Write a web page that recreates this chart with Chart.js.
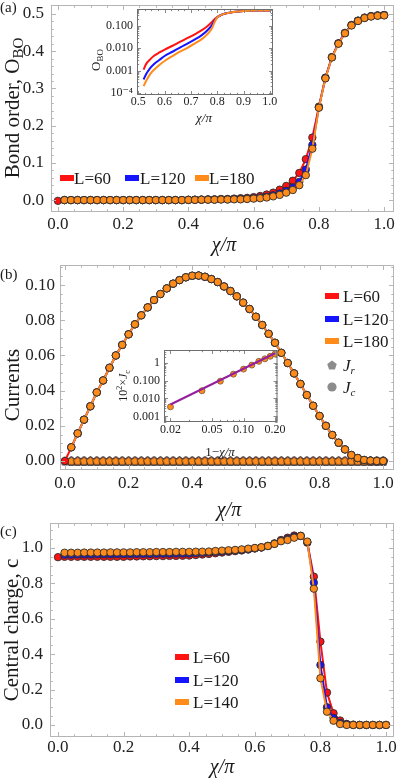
<!DOCTYPE html>
<html lang="en">
<head>
  <meta charset="UTF-8">
  <meta name="viewport" content="width=device-width, initial-scale=1.0">
  <title>Bond order, currents and central charge</title>
  <script src="https://cdn.jsdelivr.net/npm/chart.js@4.4.1/dist/chart.umd.min.js"></script>
  <style>
    body { margin: 0; background: #fff; }
    #fig { position: relative; width: 399px; height: 782px; overflow: hidden; }
    #fig canvas { position: absolute; }
  </style>
</head>
<body>
  <div id="fig">
    <canvas id="chartA" width="399" height="256" style="left:0;top:0"></canvas>
    <canvas id="chartB" width="399" height="266" style="left:0;top:256px"></canvas>
    <canvas id="chartC" width="399" height="266" style="left:0;top:516px"></canvas>
    <canvas id="insetA" width="205" height="130" style="left:80px;top:0"></canvas>
    <canvas id="insetB" width="185" height="130" style="left:105px;top:335px"></canvas>
  </div>

  <script>
    const SERIF = '"Liberation Serif", "DejaVu Serif", serif';
    const RED = '#ff1212', BLUE = '#1414ff', ORANGE = '#ff8c1a', PURPLE = '#941f9c';
    const EDGE = 'rgba(45,45,45,0.9)';

    // chi/pi grid (L=60 starts at 0, the others at 0.02)
    const chi = [0.00, 0.02, 0.04, 0.06, 0.08, 0.10, 0.12, 0.14, 0.16, 0.18, 0.20, 0.22, 0.24, 0.26, 0.28,
      0.30, 0.32, 0.34, 0.36, 0.38, 0.40, 0.42, 0.44, 0.46, 0.48, 0.50, 0.52, 0.54, 0.56, 0.58, 0.60, 0.62,
      0.64, 0.66, 0.68, 0.70, 0.72, 0.74, 0.76, 0.78, 0.80, 0.82, 0.84, 0.86, 0.88, 0.90, 0.92, 0.94, 0.96,
      0.98, 1.00];

    // (a) bond order
    const boL60 = [-0.002, 0, 0, 0, 0, 0, 0, 0, 0, 0, 0, 0, 0, 0, 0, 0, 0, 0, 0, 0,
      0.001, 0.001, 0.0015, 0.002, 0.002, 0.003, 0.003, 0.004, 0.005, 0.006,
      0.008, 0.011, 0.015, 0.02, 0.028, 0.038, 0.052, 0.073, 0.11, 0.168,
      0.251, 0.329, 0.384, 0.421, 0.449, 0.47, 0.482, 0.49, 0.494, 0.496, 0.497];
    const boL120 = [0, 0, 0, 0, 0, 0, 0, 0, 0, 0, 0, 0, 0, 0, 0, 0, 0, 0, 0,
      0.0005, 0.001, 0.001, 0.0015, 0.0015, 0.002, 0.002, 0.003, 0.003, 0.004,
      0.005, 0.007, 0.009, 0.013, 0.018, 0.025, 0.034, 0.049, 0.082, 0.148,
      0.249, 0.328, 0.384, 0.421, 0.449, 0.47, 0.482, 0.49, 0.494, 0.496, 0.497];
    const boL180 = [0, 0, 0, 0, 0, 0, 0, 0, 0, 0, 0, 0, 0, 0, 0, 0, 0, 0, 0,
      0.0005, 0.0005, 0.001, 0.001, 0.001, 0.0015, 0.0015, 0.002, 0.002, 0.003,
      0.004, 0.005, 0.007, 0.01, 0.014, 0.02, 0.027, 0.04, 0.067, 0.138,
      0.248, 0.327, 0.383, 0.42, 0.448, 0.469, 0.481, 0.489, 0.493, 0.495, 0.496];

    // (a) inset, log scale
    const obChi = [0.52, 0.53, 0.545, 0.56, 0.58, 0.60, 0.63, 0.66, 0.69, 0.72, 0.74, 0.76, 0.78, 0.79,
      0.80, 0.82, 0.84, 0.86, 0.88, 0.90, 0.95, 1.00];
    const obL60 = [0.0011, 0.002, 0.0032, 0.0046, 0.0065, 0.0088, 0.013, 0.02, 0.03, 0.046, 0.063, 0.092,
      0.15, 0.2, 0.25, 0.33, 0.384, 0.42, 0.45, 0.47, 0.492, 0.497];
    const obL120 = [0.0004, 0.0007, 0.0013, 0.002, 0.003, 0.0045, 0.007, 0.011, 0.017, 0.027, 0.038, 0.06,
      0.11, 0.17, 0.245, 0.33, 0.384, 0.42, 0.45, 0.47, 0.492, 0.497];
    const obL180 = [0.0002, 0.00035, 0.0007, 0.0011, 0.0018, 0.0027, 0.0045, 0.0072, 0.011, 0.018, 0.025,
      0.04, 0.08, 0.15, 0.24, 0.33, 0.384, 0.42, 0.45, 0.47, 0.492, 0.497];

    // (b) chiral current J_c (dome) and rung current J_r (zero)
    const jcL60 = [0, 0.0078, 0.0157, 0.0235, 0.0311, 0.0390, 0.0458, 0.0530, 0.0600, 0.0660, 0.0720,
      0.0777, 0.0828, 0.0873, 0.0915, 0.0949, 0.0981, 0.1008, 0.1028, 0.1044, 0.1053, 0.1054, 0.1047,
      0.1034, 0.1017, 0.0992, 0.0966, 0.0936, 0.0900, 0.0864, 0.0820, 0.0773, 0.0723, 0.0672, 0.0615,
      0.0557, 0.0498, 0.0438, 0.0375, 0.0314, 0.0256, 0.0200, 0.0148, 0.0104, 0.0066, 0.0034, 0.0017,
      0.0006, 0.0002, 0, 0];
    const jcL120 = [0.0078, 0.0157, 0.0235, 0.0311, 0.0390, 0.0458, 0.0530, 0.0600, 0.0660, 0.0720,
      0.0777, 0.0828, 0.0873, 0.0915, 0.0949, 0.0981, 0.1008, 0.1028, 0.1044, 0.1053, 0.1054, 0.1047,
      0.1034, 0.1017, 0.0992, 0.0966, 0.0936, 0.0900, 0.0864, 0.0820, 0.0773, 0.0723, 0.0672, 0.0615,
      0.0557, 0.0498, 0.0438, 0.0375, 0.0314, 0.0256, 0.0200, 0.0148, 0.0104, 0.0066, 0.0034, 0.0017,
      0.0006, 0.0002, 0, 0];
    const jcL180 = [0.0078, 0.0157, 0.0235, 0.0311, 0.0390, 0.0458, 0.0530, 0.0600, 0.0660, 0.0720,
      0.0777, 0.0828, 0.0873, 0.0915, 0.0949, 0.0981, 0.1008, 0.1028, 0.1044, 0.1053, 0.1054, 0.1047,
      0.1034, 0.1017, 0.0992, 0.0966, 0.0936, 0.0900, 0.0864, 0.0820, 0.0773, 0.0723, 0.0672, 0.0615,
      0.0557, 0.0498, 0.0438, 0.0375, 0.0314, 0.0256, 0.0200, 0.0148, 0.0104, 0.0066, 0.0034, 0.0017,
      0.0006, 0.0002, 0, 0];
    const jrL60 = [0, 0, 0, 0, 0, 0, 0, 0, 0, 0, 0, 0, 0, 0, 0, 0, 0, 0, 0, 0, 0, 0, 0, 0, 0, 0,
      0, 0, 0, 0, 0, 0, 0, 0, 0, 0, 0, 0, 0, 0, 0, 0, 0, 0, 0, 0, 0, 0, 0, 0, 0];
    const jrL120 = [0, 0, 0, 0, 0, 0, 0, 0, 0, 0, 0, 0, 0, 0, 0, 0, 0, 0, 0, 0, 0, 0, 0, 0, 0,
      0, 0, 0, 0, 0, 0, 0, 0, 0, 0, 0, 0, 0, 0, 0, 0, 0, 0, 0, 0, 0, 0, 0, 0, 0];
    const jrL180 = [0, 0, 0, 0, 0, 0, 0, 0, 0, 0, 0, 0, 0, 0, 0, 0, 0, 0, 0, 0, 0, 0, 0, 0, 0,
      0, 0, 0, 0, 0, 0, 0, 0, 0, 0, 0, 0, 0, 0, 0, 0, 0, 0, 0, 0, 0, 0, 0, 0, 0];

    // (b) inset: 10^2 x J_c against 1 - chi/pi, with power-law fit
    const oneMinusChi = [0.02, 0.04, 0.06, 0.08, 0.10, 0.12, 0.14, 0.16, 0.18, 0.20];
    const jcScaled = [0.0034, 0.027, 0.093, 0.23, 0.44, 0.74, 1.2, 1.66, 2.3, 3.1];
    const fitX = [0.02, 0.20];
    const fitY = [0.0046, 3.4];

    // (c) central charge
    const ccL60 = [0.948, 0.950, 0.950, 0.950, 0.950, 0.950, 0.950, 0.950, 0.950, 0.950, 0.950,
      0.952, 0.952, 0.953, 0.953, 0.954, 0.954, 0.955, 0.955, 0.956, 0.957,
      0.960, 0.963, 0.966, 0.970, 0.974, 0.978, 0.982, 0.986, 0.991, 0.997,
      1.003, 1.012, 1.026, 1.045, 1.058, 1.070, 1.068, 1.030,
      0.838, 0.471, 0.183, 0.066, 0.025, 0.006, 0.002, 0, 0, 0, 0, 0];
    const ccL120 = [0.962, 0.962, 0.963, 0.963, 0.963, 0.964, 0.964, 0.964, 0.965, 0.965,
      0.965, 0.966, 0.966, 0.966, 0.967, 0.967, 0.967, 0.968, 0.968, 0.969,
      0.971, 0.973, 0.975, 0.978, 0.980, 0.983, 0.986, 0.989, 0.993, 0.998,
      1.003, 1.011, 1.024, 1.041, 1.051, 1.064, 1.068, 1.033,
      0.804, 0.339, 0.100, 0.040, 0.012, 0.003, 0, 0, 0, 0, 0, 0];
    const ccL140 = [0.973, 0.973, 0.973, 0.974, 0.974, 0.974, 0.974, 0.975, 0.975, 0.975,
      0.975, 0.976, 0.976, 0.976, 0.977, 0.977, 0.977, 0.978, 0.978, 0.978,
      0.979, 0.979, 0.980, 0.983, 0.985, 0.987, 0.989, 0.992, 0.996, 1.000,
      1.004, 1.011, 1.023, 1.038, 1.045, 1.058, 1.068, 1.036,
      0.770, 0.264, 0.075, 0.024, 0.005, 0, 0, 0, 0, 0, 0, 0];

    // ticks
    const xTicksMain = [0, 0.2, 0.4, 0.6, 0.8, 1.0];
    const xLabelsMain = ['0.0', '0.2', '0.4', '0.6', '0.8', '1.0'];
    const yTicksA = [0, 0.1, 0.2, 0.3, 0.4, 0.5];
    const yLabelsA = ['0.0', '0.1', '0.2', '0.3', '0.4', '0.5'];
    const yTicksB = [0, 0.02, 0.04, 0.06, 0.08, 0.10];
    const yLabelsB = ['0.00', '0.02', '0.04', '0.06', '0.08', '0.10'];
    const yTicksC = [0, 0.2, 0.4, 0.6, 0.8, 1.0];
    const yLabelsC = ['0.0', '0.2', '0.4', '0.6', '0.8', '1.0'];
    const xTicksInA = [0.5, 0.6, 0.7, 0.8, 0.9, 1.0];
    const xLabelsInA = ['0.5', '0.6', '0.7', '0.8', '0.9', '1.0'];
    const yTicksInA = [0.0001, 0.001, 0.01, 0.1];
    const yLabelsInA = ['10⁻⁴', '0.001', '0.010', '0.100'];
    const xTicksInB = [0.02, 0.05, 0.1, 0.2];
    const xLabelsInB = ['0.02', '0.05', '0.10', '0.20'];
    const yTicksInB = [0.001, 0.01, 0.1, 1];
    const yLabelsInB = ['0.001', '0.010', '0.100', '1'];

    const f = (size, style) => (style ? style + ' ' : '') + size + 'px ' + SERIF;

    function steps(from, to, step) {
      const out = [];
      for (let v = from; v <= to + 1e-9; v += step) out.push(+v.toFixed(6));
      return out;
    }
    function logMinors(d0, d1) {
      const out = [];
      for (let d = d0; d <= d1; d++) for (let k = 2; k <= 9; k++) out.push(k * Math.pow(10, d));
      return out;
    }

    function pentPath(g, x, y, r) {
      g.beginPath();
      for (let i = 0; i < 5; i++) {
        const a = -Math.PI / 2 + i * 2 * Math.PI / 5;
        const px = x + r * Math.cos(a), py = y + r * Math.sin(a);
        if (i) g.lineTo(px, py); else g.moveTo(px, py);
      }
      g.closePath();
    }
    function pentagon(fill) {
      const c = document.createElement('canvas');
      c.width = c.height = 11;
      const g = c.getContext('2d');
      pentPath(g, 5.5, 5.8, 4.4);
      g.fillStyle = fill; g.fill();
      g.strokeStyle = EDGE; g.lineWidth = 1; g.stroke();
      return c;
    }

    function rich(g, t) {
      g.save();
      g.translate(t.x, t.y);
      if (t.rot) g.rotate(t.rot);
      g.textBaseline = 'alphabetic';
      g.fillStyle = t.color || '#1a1a1a';
      let w = 0;
      t.segs.forEach(s => { g.font = s[1]; w += g.measureText(s[0]).width; });
      let cx = t.align === 'left' ? 0 : -w / 2;
      t.segs.forEach(s => {
        g.font = s[1];
        g.fillText(s[0], cx, s[2] || 0);
        cx += g.measureText(s[0]).width;
      });
      g.restore();
    }

    function drawKey(g, k) {
      g.save();
      g.fillStyle = k.color;
      if (k.kind === 'bar') {
        g.fillRect(k.x, k.y - 3, 14, 6);
      } else if (k.kind === 'pent') {
        pentPath(g, k.x, k.y + 0.5, 5); g.fill();
      } else {
        g.beginPath(); g.arc(k.x, k.y, 4.6, 0, 2 * Math.PI); g.fill();
      }
      g.restore();
    }

    // frame, inward frame ticks, titles and in-plot legends
    function decor(cfg) {
      return {
        id: 'decor',
        beforeDraw(chart) {
          if (!cfg.fill) return;
          const a = chart.chartArea, g = chart.ctx;
          g.save();
          g.fillStyle = cfg.fill;
          g.fillRect(a.left, a.top, a.right - a.left, a.bottom - a.top);
          g.restore();
        },
        afterDraw(chart) {
          const g = chart.ctx, a = chart.chartArea, sx = chart.scales.x, sy = chart.scales.y;
          g.save();
          g.lineWidth = 1;
          g.strokeStyle = cfg.tickColor;
          g.beginPath();
          const mark = (vals, len, sc, horiz) => vals.forEach(v => {
            if (v <= sc.min || v >= sc.max) return;
            const p = Math.round(sc.getPixelForValue(v)) + 0.5;
            if (horiz) {
              g.moveTo(p, a.bottom); g.lineTo(p, a.bottom - len);
              g.moveTo(p, a.top); g.lineTo(p, a.top + len);
            } else {
              g.moveTo(a.left, p); g.lineTo(a.left + len, p);
              g.moveTo(a.right, p); g.lineTo(a.right - len, p);
            }
          });
          mark(cfg.xMajor, cfg.len || 5, sx, true);
          mark(cfg.xMinor, (cfg.len || 5) * 0.55, sx, true);
          mark(cfg.yMajor, cfg.len || 5, sy, false);
          mark(cfg.yMinor, (cfg.len || 5) * 0.55, sy, false);
          g.stroke();
          g.strokeStyle = cfg.frame;
          g.strokeRect(a.left + 0.5, a.top + 0.5, a.right - a.left - 1, a.bottom - a.top - 1);
          (cfg.keys || []).forEach(k => drawKey(g, k));
          (cfg.texts || []).forEach(t => rich(g, t));
          g.restore();
        }
      };
    }

    function axis(o) {
      return {
        type: o.type || 'linear', min: o.min, max: o.max, bounds: 'data',
        afterBuildTicks: s => { s.ticks = o.ticks.map(v => ({ value: v })); },
        afterFit: s => {
          if (s.isHorizontal()) s.height = o.size; else s.width = o.size;
          s.paddingLeft = s.paddingRight = s.paddingTop = s.paddingBottom = 0;
        },
        grid: { display: false, drawTicks: false },
        border: { display: false },
        ticks: {
          autoSkip: false, maxRotation: 0, minRotation: 0, padding: o.pad, color: '#222',
          font: { family: SERIF, size: o.font }, callback: (v, i) => o.labels[i]
        }
      };
    }

    function plot(id, datasets, x, y, pad, deco) {
      return new Chart(document.getElementById(id), {
        type: 'line',
        data: { datasets },
        options: {
          responsive: false, animation: false, devicePixelRatio: 1, events: [],
          layout: { padding: pad },
          plugins: { legend: { display: false }, tooltip: { enabled: false } },
          scales: { x: axis(x), y: axis(y) }
        },
        plugins: [decor(deco)]
      });
    }

    // markers + connecting line, aligned to the end of the x grid
    function series(xs, ys, color, order, extra) {
      return Object.assign({
        data: ys.map((v, i) => ({ x: xs[xs.length - ys.length + i], y: v })),
        borderColor: color, backgroundColor: color, borderWidth: 2,
        pointRadius: 3.7, pointBorderWidth: 1, pointBorderColor: EDGE,
        pointBackgroundColor: color, tension: 0, order
      }, extra || {});
    }
    function curve(xs, ys, color, order) {
      return {
        data: ys.map((v, i) => ({ x: xs[i], y: v })),
        borderColor: color, borderWidth: 2, pointRadius: 0,
        cubicInterpolationMode: 'monotone', order
      };
    }

    const mainMinorX = steps(0, 1, 0.05);
    const bar = (x, y, color) => ({ kind: 'bar', x, y, color });
    const lab = (x, y, segs, align) => ({ x, y, segs, align: align || 'left' });

    // (a)
    plot('chartA', [
      series(chi, boL60, RED, 3),
      series(chi, boL120, BLUE, 2),
      series(chi, boL180, ORANGE, 1)
    ],
      { min: -0.0212, max: 1.0303, ticks: xTicksMain, labels: xLabelsMain, font: 17, pad: 2, size: 44 },
      { min: -0.032, max: 0.524, ticks: yTicksA, labels: yLabelsA, font: 17, pad: 7, size: 51 },
      { left: 0, top: 2, right: 1, bottom: 0 },
      {
        frame: '#b5b5b5', tickColor: '#b5b5b5',
        xMajor: xTicksMain, xMinor: mainMinorX, yMajor: yTicksA, yMinor: steps(0, 0.5, 0.02),
        keys: [bar(60, 178, RED), bar(125, 178, BLUE), bar(195, 178, ORANGE)],
        texts: [
          lab(0, 12, [['(a)', f(15)]]),
          { x: 19, y: 108, rot: -Math.PI / 2, segs: [['Bond order, O', f(21)], ['BO', f(15), 4]] },
          { x: 224, y: 251, segs: [['χ/π', f(20, 'italic')]] },
          lab(74, 184, [['L=60', f(17)]]),
          lab(140, 184, [['L=120', f(17)]]),
          lab(209, 184, [['L=180', f(17)]])
        ]
      });

    // (a) inset
    plot('insetA', [
      curve(obChi, obL60, RED, 3),
      curve(obChi, obL120, BLUE, 2),
      curve(obChi, obL180, ORANGE, 1)
    ],
      { min: 0.495, max: 1.012, ticks: xTicksInA, labels: xLabelsInA, font: 12, pad: 0, size: 35 },
      { type: 'logarithmic', min: 8.05e-5, max: 0.578, ticks: yTicksInA, labels: yLabelsInA, font: 12, pad: 4, size: 57 },
      { left: 0, top: 9, right: 12, bottom: 0 },
      {
        fill: '#fff', frame: '#6e6e6e', tickColor: '#8a8a8a', len: 4,
        xMajor: xTicksInA, xMinor: steps(0.5, 1, 0.025), yMajor: yTicksInA, yMinor: logMinors(-5, -1),
        texts: [
          { x: 20, y: 60, rot: -Math.PI / 2, segs: [['O', f(13)], ['BO', f(9), 3]] },
          { x: 124, y: 122, segs: [['χ/π', f(13, 'italic')]] }
        ]
      });

    // (b)
    const pentR = pentagon(RED), pentB = pentagon(BLUE), pentO = pentagon(ORANGE);
    plot('chartB', [
      series(chi, jrL60, RED, 6, { pointStyle: pentR }),
      series(chi, jrL120, BLUE, 5, { pointStyle: pentB }),
      series(chi, jrL180, ORANGE, 4, { pointStyle: pentO }),
      series(chi, jcL60, RED, 3),
      series(chi, jcL120, BLUE, 2),
      series(chi, jcL180, ORANGE, 1)
    ],
      { min: -0.0155, max: 1.034, ticks: xTicksMain, labels: xLabelsMain, font: 17, pad: 3, size: 52 },
      { min: -0.0051, max: 0.1114, ticks: yTicksB, labels: yLabelsB, font: 17, pad: 5, size: 60 },
      { left: 0, top: 9, right: 1, bottom: 0 },
      {
        frame: '#b5b5b5', tickColor: '#b5b5b5',
        xMajor: xTicksMain, xMinor: mainMinorX, yMajor: yTicksB, yMinor: steps(0, 0.11, 0.005),
        keys: [bar(325, 40, RED), bar(325, 63, BLUE), bar(325, 85, ORANGE),
          { kind: 'pent', x: 332, y: 109, color: '#8c8c8c' }, { kind: 'dot', x: 332, y: 131, color: '#8c8c8c' }],
        texts: [
          lab(0, 23, [['(b)', f(15)]]),
          { x: 19, y: 129, rot: -Math.PI / 2, segs: [['Currents', f(21)]] },
          { x: 229, y: 260, segs: [['χ/π', f(20, 'italic')]] },
          lab(343, 46, [['L=60', f(17)]]),
          lab(343, 69, [['L=120', f(17)]]),
          lab(343, 91, [['L=180', f(17)]]),
          lab(343, 115, [['J', f(17, 'italic')], ['r', f(11, 'italic'), 3]]),
          lab(343, 137, [['J', f(17, 'italic')], ['c', f(11, 'italic'), 3]])
        ]
      });

    // (b) inset
    plot('insetB', [
      curve(fitX, fitY, PURPLE, 1),
      {
        data: jcScaled.map((v, i) => ({ x: oneMinusChi[i], y: v })),
        showLine: false, pointRadius: 3, pointBorderWidth: 1,
        pointBackgroundColor: ORANGE, pointBorderColor: 'rgba(120,90,60,0.8)', order: 2
      }
    ],
      { type: 'logarithmic', min: 0.01734, max: 0.2113, ticks: xTicksInB, labels: xLabelsInB, font: 12, pad: 1, size: 43 },
      { type: 'logarithmic', min: 4.84e-4, max: 5.17, ticks: yTicksInB, labels: yLabelsInB, font: 12, pad: 4, size: 59 },
      { left: 0, top: 15, right: 12.5, bottom: 0 },
      {
        fill: '#fff', frame: '#6e6e6e', tickColor: '#8a8a8a', len: 4,
        xMajor: xTicksInB, xMinor: logMinors(-2, -1), yMajor: yTicksInB, yMinor: logMinors(-4, 0),
        texts: [
          { x: 22, y: 51, rot: -Math.PI / 2, segs: [['10', f(12)], ['2', f(8), -5], ['×', f(12)], ['J', f(12, 'italic')], ['c', f(8), 3]] },
          { x: 115, y: 121, segs: [['1−', f(13)], ['χ/π', f(13, 'italic')]] }
        ]
      });

    // (c)
    plot('chartC', [
      series(chi, ccL60, RED, 3),
      series(chi, ccL120, BLUE, 2),
      series(chi, ccL140, ORANGE, 1)
    ],
      { min: -0.0243, max: 1.0243, ticks: xTicksMain, labels: xLabelsMain, font: 17, pad: 0.5, size: 45 },
      { min: -0.068, max: 1.141, ticks: yTicksC, labels: yLabelsC, font: 17, pad: 7, size: 50 },
      { left: 0, top: 7, right: 4, bottom: 0 },
      {
        frame: '#b5b5b5', tickColor: '#b5b5b5',
        xMajor: xTicksMain, xMinor: mainMinorX, yMajor: yTicksC, yMinor: steps(0, 1.1, 0.05),
        keys: [bar(175, 141, RED), bar(175, 164, BLUE), bar(175, 186, ORANGE)],
        texts: [
          lab(0, 20, [['(c)', f(15)]]),
          { x: 18, y: 114, rot: -Math.PI / 2, segs: [['Central charge, c', f(21)]] },
          { x: 222, y: 257, segs: [['χ/π', f(20, 'italic')]] },
          lab(193, 147, [['L=60', f(17)]]),
          lab(193, 170, [['L=120', f(17)]]),
          lab(193, 192, [['L=140', f(17)]])
        ]
      });
  </script>
</body>
</html>
